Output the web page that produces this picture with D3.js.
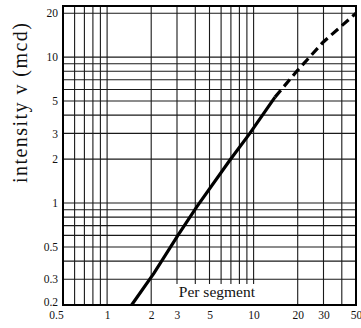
<!DOCTYPE html>
<html>
<head>
<meta charset="utf-8">
<script src="https://cdn.jsdelivr.net/npm/d3@7"></script>
<style>
  html, body { margin: 0; padding: 0; background: #fff; }
  svg { display: block; }
</style>
</head>
<body>
<svg id="chart" width="361" height="328"></svg>
<script>
// ---- data ----
const xTickLabels = [0.5, 1, 2, 3, 5, 10, 20, 30, 50];
const yTickLabels = [0.2, 0.3, 0.5, 1, 2, 3, 5, 10, 20];
const xGrid = [0.6, 0.7, 0.8, 0.9, 1, 2, 3, 4, 5, 6, 7, 8, 9, 10, 20, 30, 40];
const yGrid = [0.3, 0.4, 0.5, 0.6, 0.7, 0.8, 0.9, 1, 2, 3, 4, 5, 6, 7, 8, 9, 10, 20];
const solidX = [1.47, 2.09, 3.05, 4.09, 6.9, 9.45, 14.0];
const solidY = [0.2, 0.331, 0.603, 0.942, 1.97, 3.01, 5.32];
const dashX = [14.0, 19.5, 29.8, 50];
const dashY = [5.32, 7.9, 12.65, 20];
const yTitle = "intensity  v (mcd)";
const noteText = "Per segment";

// ---- layout ----
const pL = 63, pR = 356, pT = 6, pB = 305;
const svg = d3.select("#chart");
const x = d3.scaleLog().domain([0.5, 50]).range([pL, pR]);
const y = d3.scaleLog().domain([0.2, 22.4]).range([pB, pT]);
const serif = "'Liberation Serif', 'DejaVu Serif', serif";

// grid
svg.append("g").selectAll("line").data(xGrid).join("line")
  .attr("x1", d => x(d)).attr("x2", d => x(d))
  .attr("y1", pT).attr("y2", pB)
  .attr("stroke", "#1a1a1a").attr("stroke-width", 1.1);
svg.append("g").selectAll("line").data(yGrid).join("line")
  .attr("x1", pL).attr("x2", pR)
  .attr("y1", d => y(d)).attr("y2", d => y(d))
  .attr("stroke", "#1a1a1a").attr("stroke-width", 1.1);

// frame
svg.append("rect")
  .attr("x", pL).attr("y", pT)
  .attr("width", pR - pL).attr("height", pB - pT)
  .attr("fill", "none").attr("stroke", "#000").attr("stroke-width", 2);

// note with white background
const noteX = x(2.9), noteY = 297;
svg.append("rect")
  .attr("x", noteX - 3).attr("y", 284)
  .attr("width", x(19) - noteX).attr("height", pB - 285)
  .attr("fill", "#fff");
svg.append("text")
  .attr("x", noteX + 4).attr("y", noteY)
  .attr("font-family", serif).attr("font-size", 15.5)
  .attr("fill", "#111")
  .text(noteText);

// curve
const line = d3.line().x(d => x(d[0])).y(d => y(d[1]));
svg.append("path")
  .datum(d3.zip(solidX, solidY))
  .attr("d", line)
  .attr("fill", "none").attr("stroke", "#000").attr("stroke-width", 3.2);
svg.append("path")
  .datum(d3.zip(dashX, dashY))
  .attr("d", line)
  .attr("fill", "none").attr("stroke", "#000").attr("stroke-width", 3.2)
  .attr("stroke-dasharray", "9,5");

// axes
const xAxis = svg.append("g")
  .attr("transform", `translate(0,${pB})`)
  .call(d3.axisBottom(x).tickValues(xTickLabels).tickFormat(d3.format("~g")).tickSize(0).tickPadding(6));
xAxis.select(".domain").remove();
xAxis.selectAll("text")
  .attr("font-family", serif).attr("font-size", 11.5).attr("fill", "#111")
  .attr("dx", d => d === 0.5 ? -7 : 0);

const yAxis = svg.append("g")
  .attr("transform", `translate(${pL},0)`)
  .call(d3.axisLeft(y).tickValues(yTickLabels).tickFormat(d3.format("~g")).tickSize(0).tickPadding(5));
yAxis.select(".domain").remove();
yAxis.selectAll("text")
  .attr("font-family", serif).attr("font-size", 11.5).attr("fill", "#111")
  .attr("y", d => d === 0.2 ? -3 : 0);

// y title
svg.append("text")
  .attr("transform", "translate(27,103) rotate(-90)")
  .attr("text-anchor", "middle")
  .attr("font-family", serif).attr("font-size", 20)
  .attr("fill", "#111")
  .attr("textLength", 160).attr("lengthAdjust", "spacing")
  .text(yTitle);
</script>
</body>
</html>
